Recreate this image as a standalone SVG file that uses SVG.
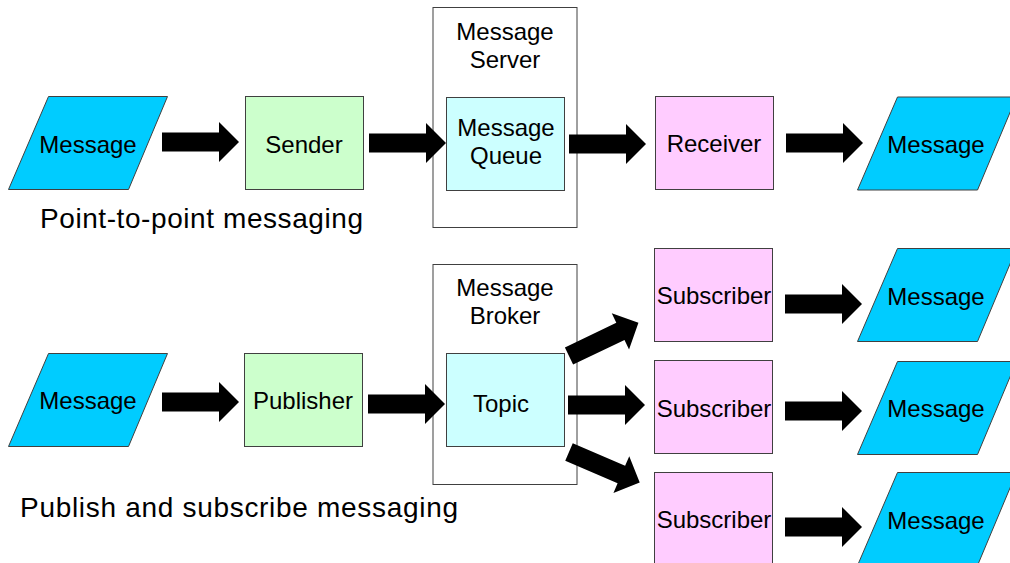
<svg xmlns="http://www.w3.org/2000/svg" xmlns:xlink="http://www.w3.org/1999/xlink" width="1010" height="563" viewBox="0 0 1010 563">
<style>
text{font-family:"Liberation Sans",Arial,sans-serif;font-size:24px;fill:#000;text-anchor:middle}
.cap{font-size:28px;text-anchor:start}
.msg{fill:#00CCFF;stroke:#404040;stroke-width:1}
.green{fill:#CCFFCC;stroke:#404040;stroke-width:1}
.cyan{fill:#CCFFFF;stroke:#404040;stroke-width:1}
.pink{fill:#FFCCFF;stroke:#404040;stroke-width:1}
.frame{fill:#fff;stroke:#404040;stroke-width:1}
.arr{fill:#000}
</style>
<defs>
<path id="arrow" class="arr" d="M0,-9.5 H57 V-20 L77,0 L57,20 V9.5 H0 Z"/>
<path id="para" class="msg" d="M40,0 H159 L120,93 H0 Z"/>
</defs>
<rect width="1010" height="563" fill="#fff"/>

<g id="server">
<rect class="frame" x="433" y="7.5" width="144" height="220"/>
<text x="505" y="40">Message</text>
<text x="505" y="68">Server</text>
</g>
<g id="broker">
<rect class="frame" x="433" y="264.5" width="144" height="220"/>
<text x="505" y="296">Message</text>
<text x="505" y="324">Broker</text>
</g>

<g id="msg-in-1"><use xlink:href="#para" x="8.5" y="96.5"/><text x="88" y="153">Message</text></g>
<g id="sender"><rect class="green" x="245.5" y="96.5" width="118" height="93"/><text x="304" y="153">Sender</text></g>
<g id="queue"><rect class="cyan" x="446.5" y="97.5" width="118" height="93"/><text x="506" y="136">Message</text><text x="506" y="164">Queue</text></g>
<g id="receiver"><rect class="pink" x="655.5" y="96.5" width="118" height="93"/><text x="714" y="152">Receiver</text></g>
<g id="msg-out-1"><use xlink:href="#para" x="857.5" y="97"/><text x="936" y="153">Message</text></g>

<text class="cap" x="40" y="228" textLength="323" lengthAdjust="spacing">Point-to-point messaging</text>

<g id="msg-in-2"><use xlink:href="#para" x="8.5" y="353.5"/><text x="88" y="409">Message</text></g>
<g id="publisher"><rect class="green" x="244.5" y="353.5" width="118" height="93"/><text x="303" y="409">Publisher</text></g>
<g id="topic"><rect class="cyan" x="446.5" y="353.5" width="118" height="93"/><text x="501" y="412">Topic</text></g>
<g id="sub1"><rect class="pink" x="654.5" y="248.5" width="118" height="93"/><text x="714" y="304">Subscriber</text></g>
<g id="sub2"><rect class="pink" x="654.5" y="360.5" width="118" height="93"/><text x="714" y="417">Subscriber</text></g>
<g id="sub3"><rect class="pink" x="654.5" y="472.5" width="118" height="93"/><text x="714" y="528">Subscriber</text></g>
<g id="msg-out-2"><use xlink:href="#para" x="857.5" y="248.5"/><text x="936" y="305">Message</text></g>
<g id="msg-out-3"><use xlink:href="#para" x="857.5" y="361.5"/><text x="936" y="417">Message</text></g>
<g id="msg-out-4"><use xlink:href="#para" x="857.5" y="472.5"/><text x="936" y="529">Message</text></g>

<text class="cap" x="20" y="517" textLength="438" lengthAdjust="spacing">Publish and subscribe messaging</text>

<g id="connectors">
<use xlink:href="#arrow" transform="translate(162,142)"/>
<use xlink:href="#arrow" transform="translate(369,143)"/>
<use xlink:href="#arrow" transform="translate(569,144)"/>
<use xlink:href="#arrow" transform="translate(786,143)"/>
<use xlink:href="#arrow" transform="translate(162,402)"/>
<use xlink:href="#arrow" transform="translate(368,404)"/>
<use xlink:href="#arrow" transform="translate(569,356) rotate(-25.6)"/>
<use xlink:href="#arrow" transform="translate(568,405)"/>
<use xlink:href="#arrow" transform="translate(569,452) rotate(23.3)"/>
<use xlink:href="#arrow" transform="translate(785,304)"/>
<use xlink:href="#arrow" transform="translate(785,411)"/>
<use xlink:href="#arrow" transform="translate(785,527)"/>
</g>
</svg>
